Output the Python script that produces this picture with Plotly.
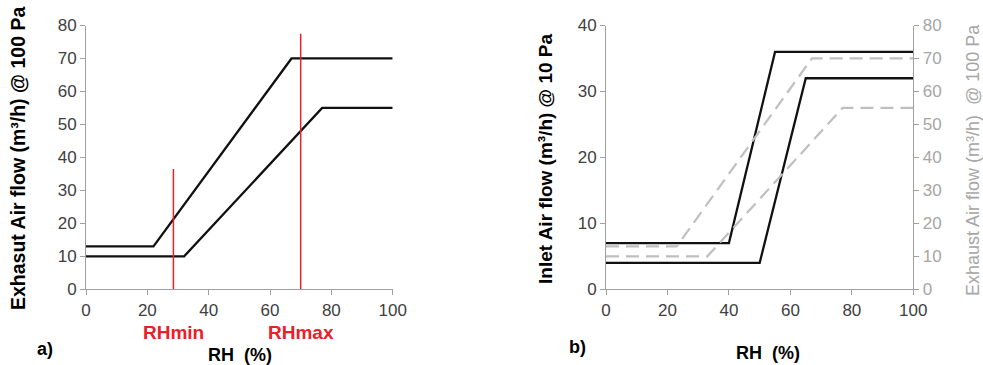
import plotly.graph_objects as go

W, H = 983, 365

# ---- data ----
rh_a_upper = [0, 22, 67, 100]
flow_a_upper = [13, 13, 70, 70]
rh_a_lower = [0, 32, 77, 100]
flow_a_lower = [10, 10, 55, 55]

rh_markers = [28.5, 70]
rh_marker_tops = [36.5, 77.5]
rh_marker_labels = ["RHmin", "RHmax"]

rh_b_upper = [0, 40, 55, 100]
inlet_b_upper = [7, 7, 36, 36]
rh_b_lower = [0, 50, 65, 100]
inlet_b_lower = [4, 4, 32, 32]

rh_b_exh_upper = [0, 23, 67, 100]
exh_b_upper = [13, 13, 70, 70]
rh_b_exh_lower = [0, 33, 77, 100]
exh_b_lower = [10, 10, 55, 55]

x_ticks = [0, 20, 40, 60, 80, 100]
ya_ticks = [0, 10, 20, 30, 40, 50, 60, 70, 80]
yb_ticks = [0, 10, 20, 30, 40]
yb2_ticks = [0, 10, 20, 30, 40, 50, 60, 70, 80]

FONT = "Liberation Sans, Arial, sans-serif"
AXIS_GREY = "#a0a0a0"
TICK_TXT = "#404040"
LIGHT = "#a6a6a6"

fig = go.Figure()

blk = dict(color="#111111", width=2.3)
fig.add_trace(go.Scatter(x=rh_a_upper, y=flow_a_upper, mode="lines", line=blk, xaxis="x", yaxis="y"))
fig.add_trace(go.Scatter(x=rh_a_lower, y=flow_a_lower, mode="lines", line=blk, xaxis="x", yaxis="y"))
for xm, top in zip(rh_markers, rh_marker_tops):
    fig.add_trace(go.Scatter(x=[xm, xm], y=[0, top], mode="lines",
                             line=dict(color="#e8202a", width=1.5), xaxis="x", yaxis="y"))

dash = dict(color="#bfbfbf", width=2.2, dash="13px,7px")
fig.add_trace(go.Scatter(x=rh_b_exh_upper, y=exh_b_upper, mode="lines", line=dash, xaxis="x2", yaxis="y3"))
fig.add_trace(go.Scatter(x=rh_b_exh_lower, y=exh_b_lower, mode="lines", line=dash, xaxis="x2", yaxis="y3"))
fig.add_trace(go.Scatter(x=rh_b_upper, y=inlet_b_upper, mode="lines", line=blk, xaxis="x2", yaxis="y2"))
fig.add_trace(go.Scatter(x=rh_b_lower, y=inlet_b_lower, mode="lines", line=blk, xaxis="x2", yaxis="y2"))

def px_x(p):
    return p / W

def px_y(p):
    return 1 - p / H

ydom = [px_y(289.3), px_y(25.5)]

xcommon = dict(range=[0, 100], tickvals=x_ticks, showgrid=False, zeroline=False,
               showline=True, linecolor=AXIS_GREY, linewidth=1, automargin=False,
               ticks="outside", ticklen=5, tickcolor=AXIS_GREY,
               tickfont=dict(family=FONT, size=17, color=TICK_TXT), fixedrange=True)
ycommon = dict(showgrid=False, zeroline=False, showline=True, linecolor=AXIS_GREY, linewidth=1,
               ticks="outside", ticklen=5, tickcolor=AXIS_GREY, automargin=False,
               tickfont=dict(family=FONT, size=17, color=TICK_TXT), domain=ydom, fixedrange=True)

fig.update_layout(
    template="none",
    width=W, height=H,
    margin=dict(l=0, r=0, t=0, b=0, pad=0, autoexpand=False),
    paper_bgcolor="white", plot_bgcolor="white",
    showlegend=False,
    hovermode=False,
    xaxis=dict(xcommon, domain=[px_x(86), px_x(392.7)], anchor="y"),
    yaxis=dict(ycommon, range=[0, 80], tickvals=ya_ticks, anchor="x"),
    xaxis2=dict(xcommon, domain=[px_x(606), px_x(913.3)], anchor="y2"),
    yaxis2=dict(ycommon, range=[0, 40], tickvals=yb_ticks, anchor="x2"),
    yaxis3=dict(ycommon, range=[0, 80], tickvals=yb2_ticks, anchor="x2", overlaying="y2",
                side="right", tickfont=dict(family=FONT, size=17, color=LIGHT)),
)

ann = []
def A(text, x, y, size=16, color="black", bold=True, angle=0, xref="paper"):
    t = f"<b>{text}</b>" if bold else text
    ann.append(dict(text=t, x=x if xref != "paper" else px_x(x), y=px_y(y), xref=xref, yref="paper",
                    showarrow=False, textangle=angle, xanchor="center", yanchor="middle",
                    font=dict(family=FONT, size=size, color=color)))

A("Exhasut Air flow (m³/h) @ 100 Pa", 18, 159, size=19.5, angle=-90)
A("Inlet Air flow (m³/h) @ 10 Pa", 545, 159, size=19, angle=-90)
A("Exhaust Air flow (m³/h)  @ 100 Pa", 973, 160, size=18, color=LIGHT, bold=False, angle=-90)
for xm, lab in zip(rh_markers, rh_marker_labels):
    A(lab, xm, 332, size=19, color="#e8202a", xref="x")
A("RH  (%)", 240, 355, size=18)
A("RH  (%)", 768, 353, size=18)
A("a)", 45, 349, size=18)
A("b)", 577, 347, size=18)
fig.update_layout(annotations=ann)

fig.write_html(
    "out.html",
    config={"displayModeBar": False, "staticPlot": True},
    post_script="document.body.style.margin='0';document.body.style.padding='0';"
                "document.documentElement.style.overflow='hidden';",
)
